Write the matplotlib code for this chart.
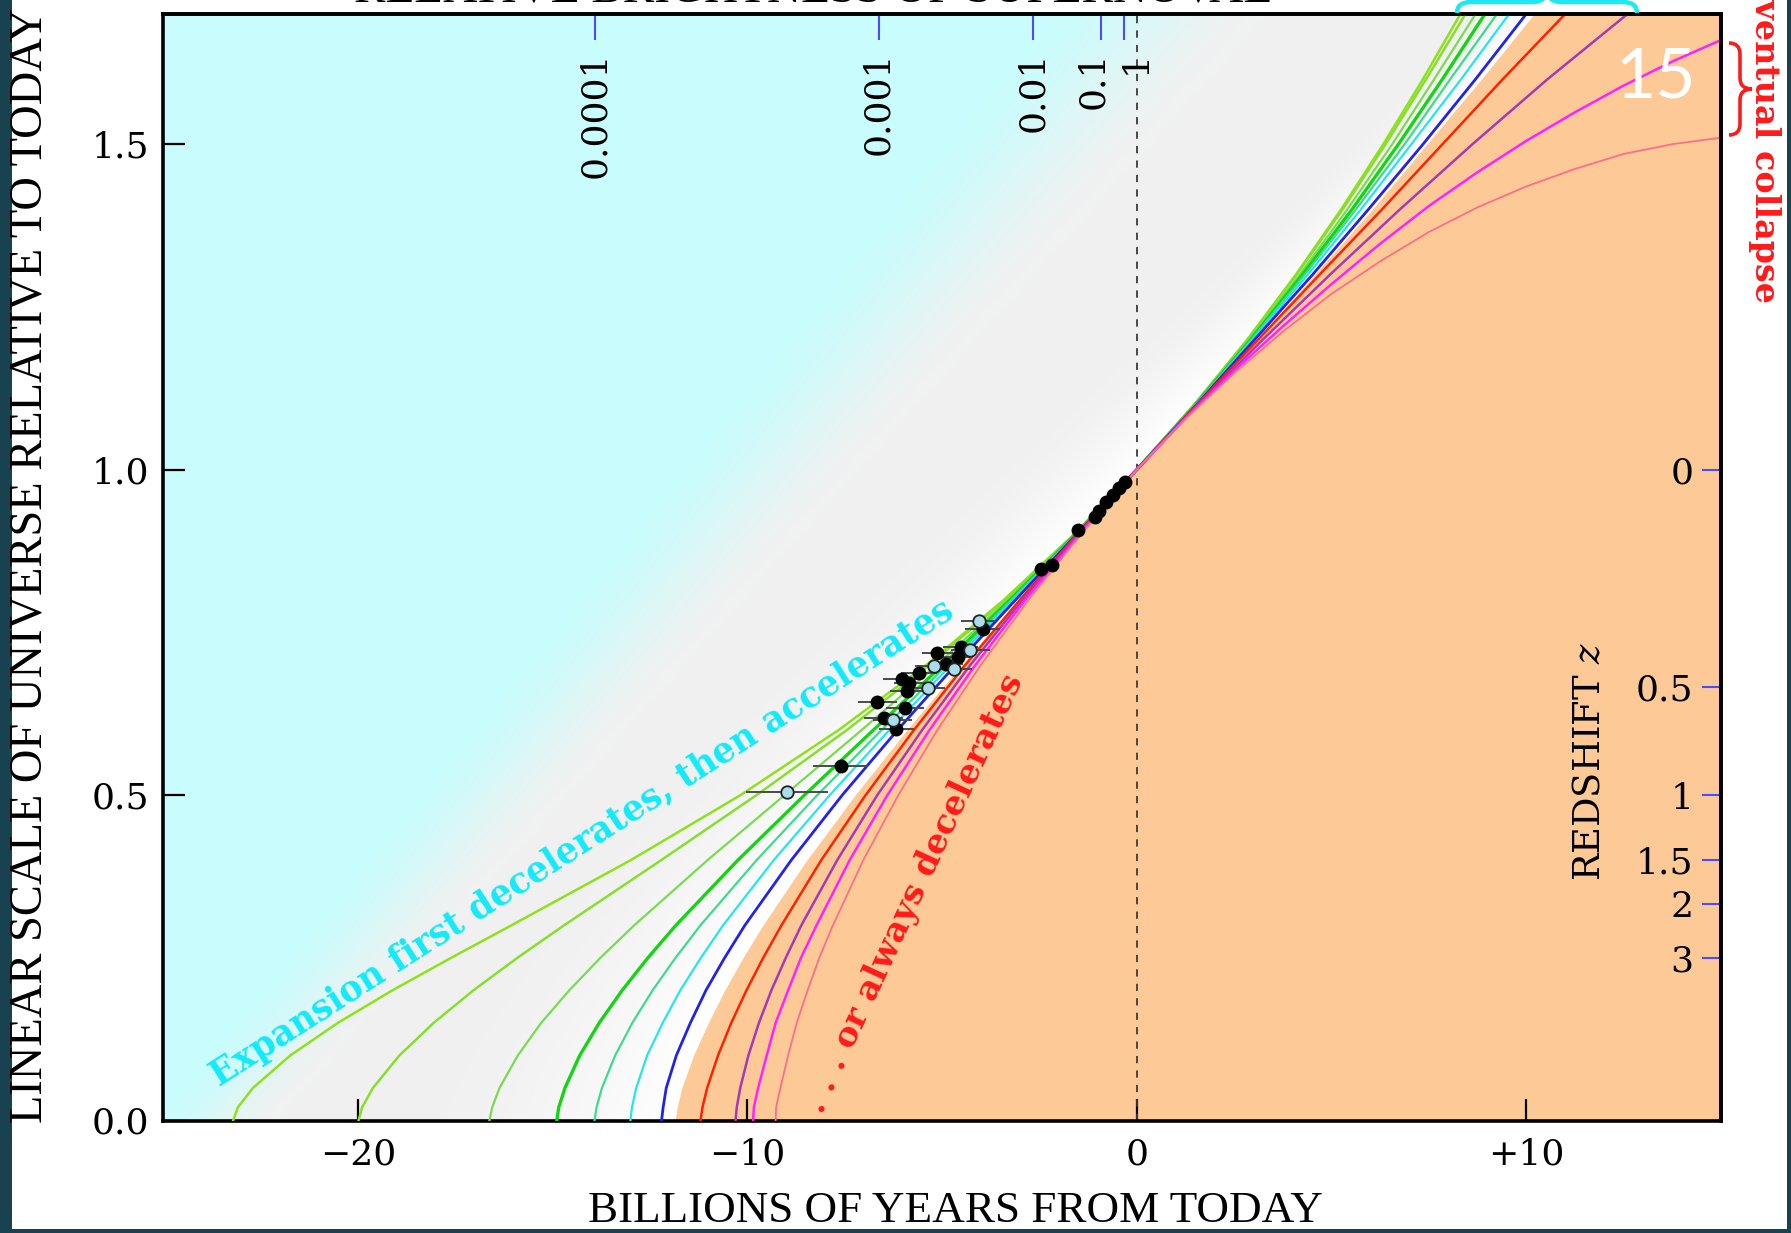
import numpy as np
import matplotlib
matplotlib.use("Agg")
import matplotlib.pyplot as plt
from matplotlib.path import Path
from matplotlib.patches import PathPatch, Rectangle

plt.rcParams["font.family"] = ["DejaVu Serif"]
plt.rcParams["mathtext.fontset"] = "dejavuserif"

W, H = 1791, 1233

# scale of the universe (today = 1) at which each expansion history is sampled
PAST_A = [0.0, 0.02, 0.05, 0.1, 0.15, 0.2, 0.25, 0.3, 0.4, 0.5, 0.6, 0.7, 0.8, 0.9, 1.0]
FUT_A = [1.1, 1.2, 1.3, 1.4, 1.5, 1.6, 1.7]

# time (billions of years from today) of each history at PAST_A / FUT_A
lg1_past = [-23.2, -23.08, -22.69, -21.73, -20.51, -19.11, -17.60, -16.05, -12.99, -10.17, -7.65, -5.40, -3.41, -1.62, 0.0]
lg1_fut = [1.48, 2.84, 4.09, 5.25, 6.33, 7.35, 8.31]
lg2_past = [-19.98, -19.89, -19.61, -18.93, -18.05, -17.03, -15.90, -14.70, -12.21, -9.76, -7.44, -5.32, -3.38, -1.61, 0.0]
lg2_fut = [1.48, 2.85, 4.11, 5.29, 6.39, 7.43, 8.44]
lg3_past = [-16.62, -16.55, -16.36, -15.89, -15.29, -14.57, -13.77, -12.90, -11.02, -9.04, -7.06, -5.13, -3.31, -1.60, 0.0]
lg3_fut = [1.50, 2.89, 4.19, 5.41, 6.56, 7.64, 8.70]
green_past = [-14.89, -14.84, -14.68, -14.30, -13.80, -13.21, -12.55, -11.83, -10.24, -8.53, -6.76, -4.98, -3.25, -1.58, 0.0]
green_fut = [1.51, 2.93, 4.26, 5.53, 6.72, 7.85, 8.94]
sea_past = [-13.92, -13.87, -13.73, -13.39, -12.95, -12.43, -11.84, -11.20, -9.76, -8.20, -6.55, -4.87, -3.21, -1.57, 0.0]
sea_fut = [1.52, 2.95, 4.32, 5.63, 6.88, 8.05, 9.25]
cyan_past = [-13.0, -12.96, -12.85, -12.57, -12.17, -11.72, -11.19, -10.62, -9.32, -7.88, -6.35, -4.77, -3.16, -1.56, 0.0]
cyan_fut = [1.52, 2.99, 4.40, 5.76, 7.05, 8.33, 9.56]
blue_past = [-12.2, -12.16, -12.08, -11.82, -11.46, -11.06, -10.58, -10.06, -8.87, -7.56, -6.14, -4.65, -3.11, -1.55, 0.0]
blue_fut = [1.54, 3.03, 4.52, 5.95, 7.35, 8.70, 10.0]
red_past = [-11.2, -11.15, -11.03, -10.75, -10.41, -10.02, -9.59, -9.12, -8.10, -6.96, -5.72, -4.40, -3.00, -1.54, 0.0]
red_fut = [1.55, 3.12, 4.70, 6.30, 7.85, 9.40, 11.0]
purple_past = [-10.3, -10.27, -10.18, -9.97, -9.70, -9.38, -9.01, -8.61, -7.69, -6.66, -5.51, -4.27, -2.93, -1.51, 0.0]
purple_fut = [1.58, 3.24, 4.97, 6.76, 8.62, 10.55, 12.6]
magenta_past = [-9.85, -9.83, -9.72, -9.50, -9.27, -8.95, -8.62, -8.22, -7.37, -6.40, -5.32, -4.14, -2.86, -1.47, 0.0]
pink_past = [-9.27, -9.26, -9.15, -8.95, -8.73, -8.45, -8.15, -7.80, -7.02, -6.12, -5.12, -4.00, -2.78, -1.44, 0.0]

# the two recollapsing histories leave through the right edge
FUT_T = [1.25, 2.5, 3.75, 5.0, 6.25, 7.5, 8.75, 10.0, 11.25, 12.5, 13.75, 15.0]
magenta_fut_a = [1.079, 1.152, 1.22, 1.285, 1.347, 1.405, 1.457, 1.505, 1.549, 1.59, 1.627, 1.66]
pink_fut_a = [1.078, 1.148, 1.212, 1.27, 1.32, 1.365, 1.403, 1.435, 1.462, 1.485, 1.5, 1.51]

# edge of the "always decelerates" region
edge_past = [-11.85, -11.80, -11.68, -11.38, -11.00, -10.58, -10.11, -9.60, -8.47, -7.23, -5.90, -4.50, -3.04, -1.54, 0.0]
edge_fut = [1.54, 3.08, 4.57, 6.05, 7.45, 8.85, 10.2]

# supernova measurements: time, scale, error in time
sn_t = [-2.46, -2.17, -1.50, -1.08, -0.98, -0.78, -0.62, -0.45, -0.29,
        -3.96, -4.52, -4.60, -4.90, -5.12, -5.59, -6.02, -5.84, -5.89, -5.95,
        -6.66, -6.49, -6.18, -7.60]
sn_a = [0.848, 0.853, 0.907, 0.927, 0.937, 0.950, 0.961, 0.971, 0.981,
        0.755, 0.728, 0.712, 0.702, 0.719, 0.688, 0.678, 0.672, 0.660, 0.633,
        0.643, 0.618, 0.602, 0.545]
sn_err = [0.1, 0.1, 0.1, 0.1, 0.1, 0.1, 0.1, 0.1, 0.1,
          0.45, 0.45, 0.4, 0.45, 0.4, 0.45, 0.5, 0.4, 0.45, 0.5,
          0.5, 0.5, 0.45, 0.7]
sn2_t = [-4.06, -4.28, -4.69, -5.20, -5.37, -6.27, -8.97]
sn2_a = [0.768, 0.723, 0.693, 0.698, 0.665, 0.615, 0.505]
sn2_err = [0.45, 0.5, 0.45, 0.5, 0.45, 0.5, 1.05]

# relative brightness of supernovae (top scale): tick places and label places
BRIGHT_T = [-13.9, -6.63, -2.67, -0.91, -0.32]
BRIGHT_LABEL_T = [-13.9, -6.63, -2.67, -1.11, -0.03]
BRIGHT_LABELS = ["0.0001", "0.001", "0.01", "0.1", "1"]

# redshift (right scale)
Z_VALUES = [0, 0.5, 1, 1.5, 2, 3]
Z_LABELS = ["0", "0.5", "1", "1.5", "2", "3"]

CYAN_BG = np.array([0.79, 0.99, 0.99])
GRAY_BG = np.array([0.945, 0.945, 0.945])
WHITE = np.array([1.0, 1.0, 1.0])
ORANGE = "#fdca97"
TICK_BLUE = "#4b4bff"

fig = plt.figure(figsize=(W / 100, H / 100), dpi=100)
fig.patch.set_facecolor("white")
ax = fig.add_axes([163 / W, 1 - 1120.5 / H, 1558 / W, 1106.5 / H])
ax.set_xlim(-25, 15)
ax.set_ylim(0, 1.7)

edge_a = PAST_A + FUT_A
edge_t = edge_past + edge_fut

# shaded backdrop: cyan far from the curves, grey near them, white next to the edge
tt = np.linspace(-25, 15, 900)
aa = np.linspace(0, 1.7, 420)
T, A = np.meshgrid(tt, aa)
E = np.interp(A, edge_a, edge_t)
cyan_line = -25.3 + 13.4 * A
gray_line = -22.0 + 15.0 * A
f = np.clip((gray_line - T) / (gray_line - cyan_line), 0, 1)
f = f * f * (3 - 2 * f)
rgb = GRAY_BG * (1 - f[..., None]) + CYAN_BG * f[..., None]
d = E - T
w = np.clip(1 - d / (6.0 - 2.8 * A), 0, 1) ** 1.5
rgb = rgb * (1 - w[..., None]) + WHITE * w[..., None]
ax.imshow(rgb, extent=(-25, 15, 0, 1.7), origin="lower", aspect="auto",
          interpolation="bilinear", zorder=0)

ax.fill_betweenx(edge_a, edge_t, 15, color=ORANGE, lw=0, zorder=1)
ax.axvline(0, color="#3a3a3a", lw=1.3, ls=(0, (4, 4)), zorder=2)

curves = [
    (lg1_past + lg1_fut, "#8ee21c", 1.8),
    (lg2_past + lg2_fut, "#86e02a", 1.8),
    (lg3_past + lg3_fut, "#78dc50", 1.6),
    (green_past + green_fut, "#14d414", 2.4),
    (sea_past + sea_fut, "#3cdc8c", 1.6),
    (cyan_past + cyan_fut, "#22e6f2", 1.6),
    (blue_past + blue_fut, "#2222e8", 2.0),
    (red_past + red_fut, "#ff2200", 1.8),
    (purple_past + purple_fut, "#a838b4", 1.8),
]
for t_vals, col, lw in curves:
    ax.plot(t_vals, edge_a, color=col, lw=lw, zorder=3)

ax.plot(magenta_past + FUT_T, PAST_A + magenta_fut_a, color="#ff22ff", lw=1.8, zorder=3)
ax.plot(pink_past + FUT_T, PAST_A + pink_fut_a, color="#ff6e86", lw=1.3, zorder=3)

ax.errorbar(sn_t, sn_a, xerr=sn_err, fmt="o", ms=9, mfc="black", mec="black",
            ecolor="#4a4a4a", elinewidth=1.4, capsize=0, zorder=5)
ax.errorbar(sn2_t, sn2_a, xerr=sn2_err, fmt="o", ms=9, mfc="#a9dcec", mec="#222222",
            mew=1.3, ecolor="#4a4a4a", elinewidth=1.4, capsize=0, zorder=5)

# annotations
ax.text(-14.25, 0.426, "Expansion first decelerates, then accelerates",
        rotation=32.6, rotation_mode="anchor", ha="center", va="center",
        color="#12eafa", fontsize=25, fontweight="bold", zorder=6)
ax.text(-5.71, 0.349, ". . . or always decelerates",
        rotation=65.2, rotation_mode="anchor", ha="center", va="center",
        color="#ff1a1a", fontsize=24.5, fontweight="bold", zorder=6)

# axes, ticks and scales
ax.set_xticks([-20, -10, 0, 10])
ax.set_xticklabels(["\u221220", "\u221210", "0", "+10"])
ax.set_yticks([0, 0.5, 1.0, 1.5])
ax.set_yticklabels(["0.0", "0.5", "1.0", "1.5"])
ax.tick_params(axis="both", direction="in", length=16, width=1.6, labelsize=26,
               top=False, right=False)
ax.tick_params(axis="x", pad=12)
ax.tick_params(axis="y", pad=10)
for s in ax.spines.values():
    s.set_linewidth(2.6)

top = ax.secondary_xaxis("top")
top.set_zorder(10)
top.xaxis.remove_overlapping_locs = False
top.set_xticks(BRIGHT_LABEL_T, labels=BRIGHT_LABELS)
top.set_xticks(BRIGHT_T, minor=True)
top.tick_params(axis="x", which="major", length=0, pad=-27, labelsize=26,
                labelrotation=90)
top.tick_params(axis="x", which="minor", direction="in", length=19, width=1.5,
                color=TICK_BLUE)
for lbl in top.get_xticklabels():
    lbl.set_verticalalignment("top")
top.spines["top"].set_linewidth(2.6)

z_pos = [1 / (1 + z) for z in Z_VALUES]
right = ax.secondary_yaxis("right")
right.set_zorder(10)
right.set_yticks(z_pos, labels=Z_LABELS)
right.tick_params(axis="y", direction="in", length=14, width=1.5, color=TICK_BLUE,
                  pad=-20, labelsize=26)
for lbl in right.get_yticklabels():
    lbl.set_horizontalalignment("right")
right.spines["right"].set_linewidth(2.6)

fig.text(1590 / W, 1 - 762 / H, "REDSHIFT $z$", rotation=90, ha="center",
         va="center", fontsize=26.5)

fig.text(955 / W, 1 - 1211 / H, "BILLIONS OF YEARS FROM TODAY", ha="center",
         va="center", fontsize=32.5, family="Liberation Serif")
fig.text(30 / W, 1 - 565 / H, "LINEAR SCALE OF UNIVERSE RELATIVE TO TODAY",
         rotation=90, ha="center", va="center", fontsize=33.5,
         family="Liberation Serif")
fig.text(813 / W, 1 - 2 / H, "RELATIVE BRIGHTNESS OF SUPERNOVAE", ha="center",
         va="baseline", fontsize=34, family="Liberation Serif")
fig.text(1765 / W, 1 - 303 / H, "Eventual collapse", rotation=-90, ha="center",
         va="bottom", fontsize=24, fontweight="bold", color="#ff1a1a")


def brace(x0, x1, base, mid, tip, vertical=False, **kw):
    """Curly brace in pixel units measured from the top-left corner."""
    xm = (x0 + x1) / 2
    r = min(abs(x1 - x0) * 0.12, 14)
    pts = [(x0, base), (x0, mid), (x0 + r, mid), (xm - r, mid), (xm, mid), (xm, tip),
           (xm, mid), (xm + r, mid), (x1 - r, mid), (x1, mid), (x1, base)]
    codes = [Path.MOVETO, Path.CURVE3, Path.CURVE3, Path.LINETO, Path.CURVE3,
             Path.CURVE3, Path.CURVE3, Path.CURVE3, Path.LINETO, Path.CURVE3, Path.CURVE3]
    if vertical:
        pts = [(p[1], p[0]) for p in pts]
    pts = [(p[0] / W, 1 - p[1] / H) for p in pts]
    fig.add_artist(PathPatch(Path(pts, codes), transform=fig.transFigure,
                             fill=False, **kw))


brace(1457, 1637, 13, 2, -12, color="#1ee8f2", lw=3.2)
brace(43, 135, 1729, 1740, 1752, vertical=True, color="#ff1a1a", lw=2.6)

fig.text(1656 / W, 1 - 78 / H, "15", color="white", fontsize=50,
         family="Lato", ha="center", va="center")

# slide frame
fig.add_artist(Rectangle((0, 0), 12 / W, 1, transform=fig.transFigure,
                         color="#18424f", lw=0))
fig.add_artist(Rectangle((0, 0), 1, 4 / H, transform=fig.transFigure,
                         color="#18424f", lw=0))
fig.add_artist(Rectangle((1 - 4 / W, 0), 4 / W, 1, transform=fig.transFigure,
                         color="#18424f", lw=0))

fig.savefig("out.png", dpi=100)
